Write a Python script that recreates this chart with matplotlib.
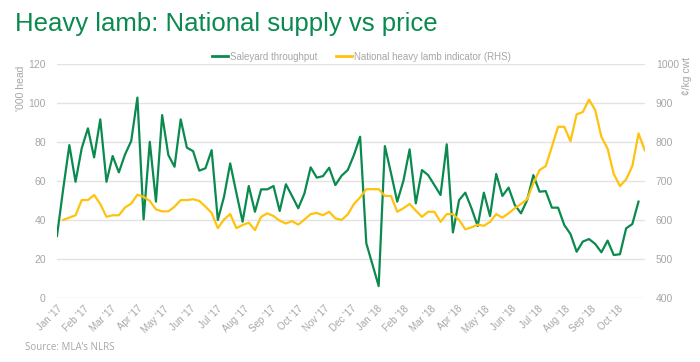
import numpy as np
import matplotlib.pyplot as plt
from matplotlib.lines import Line2D

# weekly saleyard throughput ('000 head), weeks from early Jan 2017
throughput = [32, 56, 78.6, 59.8, 77, 87.2, 72.3, 91.8, 59.8, 73, 64.6, 73.8, 80.7, 103,
              40.5, 80.3, 49.6, 94, 73.5, 67.5, 91.8, 77.3, 75.5, 65.5, 66.7, 76, 40.2,
              52.1, 69.2, 54, 39.3, 57.6, 44.4, 55.9, 55.9, 57.6, 44.8, 58.5, 52.5, 46.2,
              53.8, 67.2, 61.9, 62.7, 67, 58.1, 62.9, 65.8, 73.5, 82.9, 28.2, 17.3, 6.3,
              78.1, 64.1, 49.6, 60.3, 76.4, 48.7, 65.8, 63.2, 58.1, 53, 79, 33.8, 50.4,
              54.2, 46.2, 37.1, 54.2, 42.2, 63.8, 52.5, 56.8, 47.9, 43.6, 50.4, 63.2, 54.7,
              55, 46.5, 46.5, 37.6, 33, 23.9, 29.1, 30.4, 27.9, 23.6, 29.6, 22.2, 22.6,
              35.9, 38.1, 49.6]

# national heavy lamb indicator (c/kg cwt), starts one week later
indicator = [601, 607, 613, 652, 652, 665, 642, 609, 613, 613, 633, 643, 666, 660, 650,
             628, 623, 623, 635, 652, 652, 654, 650, 635, 619, 580, 602, 616, 580, 588,
             594, 575, 609, 618, 611, 599, 592, 598, 589, 602, 616, 619, 613, 622, 605,
             601, 615, 642, 659, 680, 680, 680, 663, 662, 622, 631, 642, 625, 609, 622,
             622, 596, 616, 616, 601, 577, 582, 589, 586, 596, 616, 607, 618, 631, 642,
             654, 695, 729, 739, 789, 840, 840, 803, 872, 878, 910, 883, 814, 784, 719,
             688, 705, 739, 823, 780]

month_labels = ["Jan '17", "Feb '17", "Mar '17", "Apr '17", "May '17", "Jun '17",
                "Jul '17", "Aug '17", "Sep '17", "Oct '17", "Nov '17", "Dec '17",
                "Jan '18", "Feb '18", "Mar '18", "Apr '18", "May '18", "Jun '18",
                "Jul '18", "Aug '18", "Sep '18", "Oct '18"]

green = '#0a8a4e'
yellow = '#ffc20e'
grey = '#a6a6a6'

plt.rcParams['font.family'] = ['Liberation Sans', 'DejaVu Sans']

fig = plt.figure(figsize=(7, 3.62), dpi=100)
ax = fig.add_axes([0.0814, 0.176, 0.8396, 0.646])
ax2 = ax.twinx()

weeks_g = np.arange(len(throughput))
weeks_y = np.arange(1, len(indicator) + 1)

ax.plot(weeks_g, throughput, color=green, lw=1.6, zorder=3)
ax2.plot(weeks_y, indicator, color=yellow, lw=1.6, zorder=3)

ax.set_xlim(0, 95)
ax.set_ylim(0, 120)
ax2.set_ylim(400, 1000)
ax.set_yticks(range(0, 121, 20))
ax2.set_yticks(range(400, 1001, 100))

n_months = len(month_labels)
ax.set_xticks(np.arange(n_months) * 95 / n_months)
ax.set_xticklabels(month_labels, rotation=45, ha='right', rotation_mode='anchor')

ax.grid(axis='y', color='#e3e3e3', lw=1)
ax.set_axisbelow(True)
for a in (ax, ax2):
    for s in a.spines.values():
        s.set_visible(False)
    a.tick_params(length=0, colors=grey, labelsize=7.5)
ax.tick_params(axis='x', labelsize=7, pad=4)
ax.tick_params(axis='y', pad=8)
ax2.tick_params(axis='y', pad=8)

fig.text(0.022, 0.935, 'Heavy lamb: National supply vs price', color=green,
         fontsize=18.5, va='center', ha='left')

handles = [Line2D([], [], color=green, lw=2), Line2D([], [], color=yellow, lw=2)]
fig.legend(handles, ['Saleyard throughput', 'National heavy lamb indicator (RHS)'],
           loc='center', bbox_to_anchor=(0.516, 0.843), ncol=2, frameon=False,
           fontsize=7, labelcolor=grey, handlelength=1.7, handletextpad=0.15,
           columnspacing=1.9)

fig.text(0.03, 0.755, "'000 head", rotation=90, color=grey, fontsize=7.5,
         ha='center', va='center')
fig.text(0.981, 0.79, '¢/kg cwt', rotation=90, color=grey, fontsize=7.5,
         ha='center', va='center')

fig.text(0.036, 0.04, 'Source: MLA’s NLRS', color=grey, fontsize=7,
         family=['Open Sans', 'DejaVu Sans'], va='center')

fig.savefig('out.png', dpi=100)
